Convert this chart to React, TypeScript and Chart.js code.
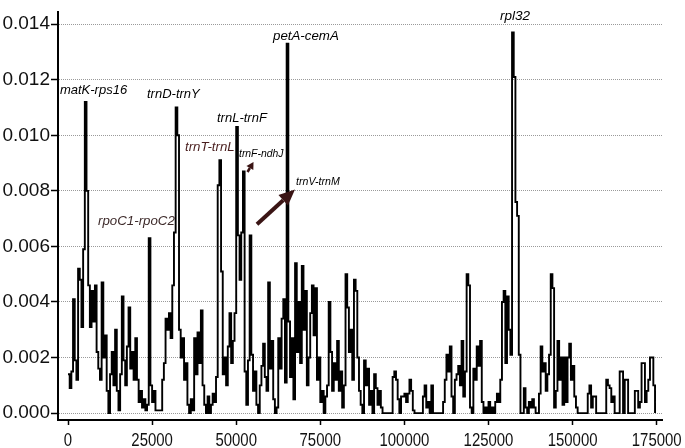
import React, { useEffect, useRef } from "react";
import { Chart, registerables } from "chart.js";

Chart.register(...registerables);

// Sliding-window nucleotide diversity (Pi); one value per 500 bp window step
const WINDOW_STEP = 500;
const piValues = [
  0.0014, 0.0009, 0.0015, 0.0041, 0.0019, 0.0012, 0.0052, 0.0048, 0.0031, 0.0059,
  0.0112, 0.0080, 0.0046, 0.0031, 0.0044, 0.0033, 0.0046, 0.0022, 0.0016, 0.0012,
  0.0047, 0.0020, 0.0028, 0.0008, 0.0000, 0.0014, 0.0022, 0.0010, 0.0030, 0.0008,
  0.0001, 0.0014, 0.0042, 0.0019, 0.0010, 0.0024, 0.0038, 0.0016, 0.0022, 0.0012,
  0.0027, 0.0012, 0.0004, 0.0008, 0.0002, 0.0005, 0.0001, 0.0003, 0.0063, 0.0010,
  0.0004, 0.0008, 0.0001, 0.0001, 0.0001, 0.0001, 0.0012, 0.0018, 0.0034, 0.0030,
  0.0036, 0.0027, 0.0046, 0.0065, 0.0110, 0.0100, 0.0030, 0.0020, 0.0027, 0.0012,
  0.0018, 0.0003, 0.0000, 0.0005, 0.0001, 0.0027, 0.0014, 0.0029, 0.0018, 0.0037,
  0.0010, 0.0003, 0.0000, 0.0006, 0.0000, 0.0003, 0.0007, 0.0004, 0.0013, 0.0082,
  0.0091, 0.0051, 0.0014, 0.0020, 0.0010, 0.0024, 0.0036, 0.0018, 0.0026, 0.0036,
  0.0103, 0.0064, 0.0048, 0.0065, 0.0087, 0.0015, 0.0003, 0.0019, 0.0064, 0.0021,
  0.0008, 0.0015, 0.0003, 0.0000, 0.0010, 0.0017, 0.0025, 0.0013, 0.0008, 0.0047,
  0.0016, 0.0026, 0.0005, 0.0000, 0.0002, 0.0027, 0.0016, 0.0034, 0.0041, 0.0011,
  0.0133, 0.0033, 0.0013, 0.0027, 0.0005, 0.0054, 0.0022, 0.0040, 0.0018, 0.0053,
  0.0030, 0.0044, 0.0010, 0.0020, 0.0036, 0.0046, 0.0028, 0.0045, 0.0012, 0.0020,
  0.0004, 0.0008, 0.0000, 0.0006, 0.0010, 0.0040, 0.0022, 0.0008, 0.0018, 0.0012,
  0.0026, 0.0008, 0.0015, 0.0002, 0.0010, 0.0050, 0.0038, 0.0022, 0.0030, 0.0012,
  0.0048, 0.0044, 0.0020, 0.0008, 0.0003, 0.0000, 0.0019, 0.0010, 0.0016, 0.0003,
  0.0008, 0.0000, 0.0014, 0.0009, 0.0003, 0.0008, 0.0002, 0.0000, 0.0000, 0.0000,
  0.0000, 0.0000, 0.0000, 0.0013, 0.0015, 0.0012, 0.0005, 0.0000, 0.0006, 0.0006,
  0.0007, 0.0004, 0.0007, 0.0012, 0.0008, 0.0001, 0.0000, 0.0000, 0.0000, 0.0000,
  0.0000, 0.0006, 0.0010, 0.0002, 0.0004, 0.0000, 0.0010, 0.0000, 0.0000, 0.0000,
  0.0000, 0.0000, 0.0000, 0.0004, 0.0012, 0.0021, 0.0015, 0.0024, 0.0006, 0.0000,
  0.0012, 0.0014, 0.0017, 0.0010, 0.0026, 0.0006, 0.0015, 0.0050, 0.0046, 0.0002,
  0.0000, 0.0016, 0.0012, 0.0024, 0.0017, 0.0026, 0.0004, 0.0000, 0.0002, 0.0000,
  0.0004, 0.0000, 0.0002, 0.0000, 0.0004, 0.0007, 0.0004, 0.0012, 0.0040, 0.0044,
  0.0018, 0.0042, 0.0030, 0.0021, 0.0137, 0.0121, 0.0076, 0.0071, 0.0021, 0.0000,
  0.0000, 0.0009, 0.0002, 0.0000, 0.0004, 0.0002, 0.0005, 0.0002, 0.0000, 0.0000,
  0.0007, 0.0024, 0.0015, 0.0018, 0.0008, 0.0014, 0.0021, 0.0050, 0.0045, 0.0002,
  0.0008, 0.0026, 0.0012, 0.0020, 0.0003, 0.0020, 0.0004, 0.0020, 0.0025, 0.0012,
  0.0017, 0.0006, 0.0002, 0.0000, 0.0000, 0.0000, 0.0000, 0.0000, 0.0000, 0.0007,
  0.0010, 0.0002, 0.0006, 0.0006, 0.0000, 0.0000, 0.0000, 0.0000, 0.0000, 0.0000,
  0.0012, 0.0010, 0.0009, 0.0004, 0.0006, 0.0000, 0.0000, 0.0000, 0.0015, 0.0015,
  0.0000, 0.0012, 0.0012, 0.0000, 0.0000, 0.0000, 0.0000, 0.0008, 0.0008, 0.0002,
  0.0004, 0.0018, 0.0018, 0.0004, 0.0008, 0.0012, 0.0020, 0.0020, 0.0010, 0.0000,
];
const windowPositions = piValues.map((_, i) => i * WINDOW_STEP);

const xTicks = [0, 25000, 50000, 75000, 100000, 125000, 150000, 175000];
const yTicks = [0, 0.002, 0.004, 0.006, 0.008, 0.01, 0.012, 0.014];

// Hotspot labels (position in bp, Pi) — left/baseline anchored
const hotspotNames = ["matK-rps16", "trnD-trnY", "trnT-trnL", "trnL-trnF", "trnF-ndhJ", "petA-cemA", "trnV-trnM", "rpl32", "rpoC1-rpoC2"];
const hotspotX = [-2400, 23480, 34780, 44290, 50830, 60940, 67780, 128420, 8920];
const hotspotY = [0.01148, 0.01134, 0.00943, 0.01049, 0.00922, 0.01342, 0.00822, 0.01414, 0.00677];
const hotspotColors = ["#000", "#000", "#4a1f1f", "#000", "#000", "#000", "#000", "#000", "#3d2a2a"];
const hotspotSizes = [13, 13, 13.3, 13, 10.4, 13.3, 10.6, 13.5, 13.3];

// Arrows: [fromX, fromY, toX, toY] in data units
const arrowFrom = [[56180, 0.0068], [53360, 0.00868]];
const arrowTo = [[67480, 0.00805], [55140, 0.00904]];
const arrowWidths = [4, 2.5];
const arrowHeads = [[16, 7], [7, 4]];

const annotationPlugin = {
  id: "hotspots",
  afterDatasetsDraw(chart: any) {
    const { ctx, scales } = chart;
    const xs = scales.x;
    const ys = scales.y;
    ctx.save();
    hotspotNames.forEach((name, i) => {
      ctx.font = `italic ${hotspotSizes[i]}px "Liberation Sans", Arial, sans-serif`;
      ctx.fillStyle = hotspotColors[i];
      ctx.textAlign = "left";
      ctx.textBaseline = "alphabetic";
      ctx.fillText(name, xs.getPixelForValue(hotspotX[i]), ys.getPixelForValue(hotspotY[i]));
    });
    arrowFrom.forEach((f, i) => {
      const t = arrowTo[i];
      const x1 = xs.getPixelForValue(f[0]);
      const y1 = ys.getPixelForValue(f[1]);
      const x2 = xs.getPixelForValue(t[0]);
      const y2 = ys.getPixelForValue(t[1]);
      const ang = Math.atan2(y2 - y1, x2 - x1);
      const [hl, hw] = arrowHeads[i];
      const bx = x2 - hl * Math.cos(ang);
      const by = y2 - hl * Math.sin(ang);
      ctx.strokeStyle = "#3a1414";
      ctx.fillStyle = "#3a1414";
      ctx.lineWidth = arrowWidths[i];
      ctx.lineCap = "butt";
      ctx.beginPath();
      ctx.moveTo(x1, y1);
      ctx.lineTo(bx, by);
      ctx.stroke();
      ctx.beginPath();
      ctx.moveTo(x2, y2);
      ctx.lineTo(bx + hw * Math.sin(ang), by - hw * Math.cos(ang));
      ctx.lineTo(bx - hw * Math.sin(ang), by + hw * Math.cos(ang));
      ctx.closePath();
      ctx.fill();
    });
    ctx.restore();
  },
  afterDraw(chart: any) {
    // x tick labels in a narrow face (horizontally condensed)
    const { ctx, scales } = chart;
    const xs = scales.x;
    ctx.save();
    ctx.font = '18px "Liberation Sans", Arial, sans-serif';
    ctx.fillStyle = "#111";
    ctx.textAlign = "center";
    ctx.textBaseline = "alphabetic";
    xTicks.forEach((v) => {
      ctx.save();
      ctx.translate(xs.getPixelForValue(v), xs.bottom - 2);
      ctx.scale(0.83, 1);
      ctx.fillText(String(v), 0, 0);
      ctx.restore();
    });
    ctx.restore();
  },
};

export default function App() {
  const canvasRef = useRef<HTMLCanvasElement | null>(null);

  useEffect(() => {
    if (!canvasRef.current) return;
    const chart = new Chart(canvasRef.current, {
      type: "line",
      data: {
        datasets: [
          {
            data: windowPositions.map((x, i) => ({ x, y: piValues[i] })),
            borderColor: "#000",
            borderWidth: 1.9,
            pointRadius: 0,
            fill: false,
            stepped: "before",
            tension: 0,
          },
        ],
      },
      options: {
        animation: false,
        responsive: false,
        maintainAspectRatio: false,
        layout: { padding: { top: 6, right: 23, left: 0, bottom: 0 } },
        plugins: { legend: { display: false }, tooltip: { enabled: false } },
        scales: {
          x: {
            type: "linear",
            min: -2973,
            max: 176575,
            afterBuildTicks: (s: any) => {
              s.ticks = xTicks.map((v) => ({ value: v }));
            },
            afterFit: (s: any) => {
              s.height = 28;
            },
            ticks: {
              display: false,
              maxRotation: 0,
              autoSkip: false,
            },
            grid: {
              drawOnChartArea: false,
              drawTicks: true,
              tickLength: 5,
              tickColor: "#000",
              tickWidth: 1.5,
            },
            border: { color: "#000", width: 2 },
          },
          y: {
            type: "linear",
            min: -0.000248,
            max: 0.014425,
            afterBuildTicks: (s: any) => {
              s.ticks = yTicks.map((v) => ({ value: v }));
            },
            afterFit: (s: any) => {
              s.width = 58;
            },
            ticks: {
              callback: (v: any) => Number(v).toFixed(3),
              color: "#111",
              padding: 1,
              autoSkip: false,
              font: { family: '"Liberation Sans", Arial, sans-serif', size: 19 },
            },
            grid: {
              color: "#9a9a9a",
              lineWidth: 1,
              drawTicks: true,
              tickLength: 7,
              tickColor: "#000",
              tickWidth: 1.5,
              tickBorderDash: [],
            },
            border: { color: "#000", width: 2, dash: [1, 1] },
          },
        },
      },
      plugins: [annotationPlugin],
    });
    return () => chart.destroy();
  }, []);

  return (
    <div style={{ position: "absolute", left: 0, top: 0, width: 685, height: 448, background: "#fff" }}>
      <canvas ref={canvasRef} width={685} height={448} style={{ display: "block" }} />
    </div>
  );
}
